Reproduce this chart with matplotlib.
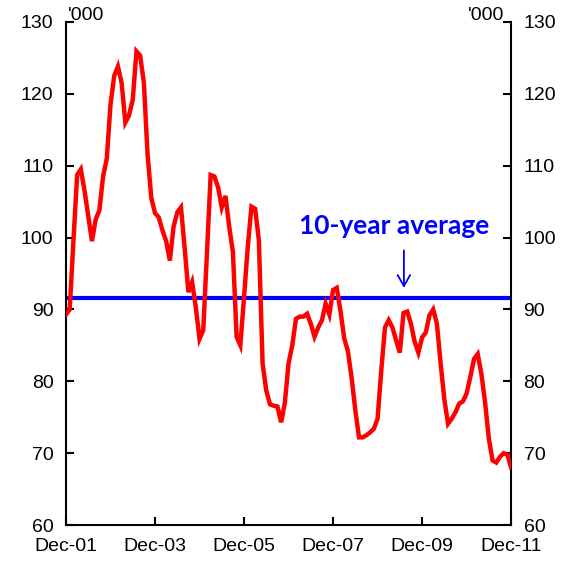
import numpy as np
import matplotlib.pyplot as plt

# monthly values, Dec-01 to Dec-11 ('000)
values = [
    89.3, 90.0, 99.5, 108.7, 109.5, 106.5, 103.0, 99.5, 102.5, 103.8,
    108.5, 111.0, 118.5, 122.5, 123.8, 121.5, 116.0, 117.0, 119.2, 125.9,
    125.3, 121.5, 111.5, 105.5, 103.4, 102.8, 101.0, 99.5, 96.8, 101.5,
    103.5, 104.2, 98.5, 92.4, 93.8, 90.3, 85.9, 87.1, 97.8, 108.7,
    108.5, 107.0, 104.2, 105.8, 101.5, 98.0, 86.2, 85.0, 91.7, 98.7,
    104.3, 104.0, 99.6, 82.5, 78.7, 76.8, 76.6, 76.5, 74.3, 77.0,
    82.5, 85.0, 88.7, 89.0, 89.0, 89.4, 88.0, 86.2, 87.5, 88.5,
    90.8, 89.3, 92.7, 93.0, 89.8, 86.0, 84.2, 80.5, 76.0, 72.2,
    72.2, 72.5, 72.9, 73.4, 74.8, 81.5, 87.5, 88.5, 87.5, 85.7,
    84.0, 89.5, 89.7, 88.0, 85.5, 84.0, 86.1, 86.8, 89.2, 90.0,
    88.0, 82.5, 77.5, 74.1, 74.8, 75.7, 76.9, 77.2, 78.3, 80.6,
    83.1, 83.8, 81.0, 77.0, 72.0, 69.0, 68.7, 69.5, 70.0, 69.8,
    68.0,
]
average = 91.6
tick_labels = ["Dec-01", "Dec-03", "Dec-05", "Dec-07", "Dec-09", "Dec-11"]
y_ticks = [60, 70, 80, 90, 100, 110, 120, 130]

plt.rcParams['font.family'] = ['Liberation Sans', 'DejaVu Sans']

fig = plt.figure(figsize=(5.66, 5.61), dpi=100)
ax = fig.add_axes([0.1166, 0.064, 0.7864, 0.897])

x = np.arange(len(values))
ax.plot(x, values, color='#ff0000', lw=3.2, solid_joinstyle='miter', zorder=3)
ax.axhline(average, color='#0000ff', lw=3, zorder=2)

ax.set_xlim(0, len(values) - 1)
ax.set_ylim(60, 130)
ax.set_xticks(np.arange(0, len(values), 24))
ax.set_xticklabels(tick_labels)
ax.set_yticks(y_ticks)

ax.spines['top'].set_visible(False)
for s in ['left', 'right', 'bottom']:
    ax.spines[s].set_linewidth(1.5)

ax.tick_params(axis='both', direction='in', length=6, width=1.5, labelsize=14)
ax.tick_params(axis='y', left=True, right=True, labelleft=True, labelright=True, pad=9)
ax.tick_params(axis='x', pad=9)

ax.text(0.005, 0.995, "'000", transform=ax.transAxes, ha='left', va='bottom', fontsize=14)
ax.text(0.985, 0.995, "'000", transform=ax.transAxes, ha='right', va='bottom', fontsize=14)

ax.text(88.4, 101.6, "10-year average", color='#0000ff', fontsize=19, fontweight='bold',
        family=['Lato', 'DejaVu Sans'], ha='center', va='center')
ax.annotate("", xy=(91.1, 92.6), xytext=(91.1, 98.6),
            arrowprops=dict(arrowstyle='->,head_length=0.8,head_width=0.45', color='#0000ff', lw=1.3))

fig.savefig("out.png", dpi=100)
